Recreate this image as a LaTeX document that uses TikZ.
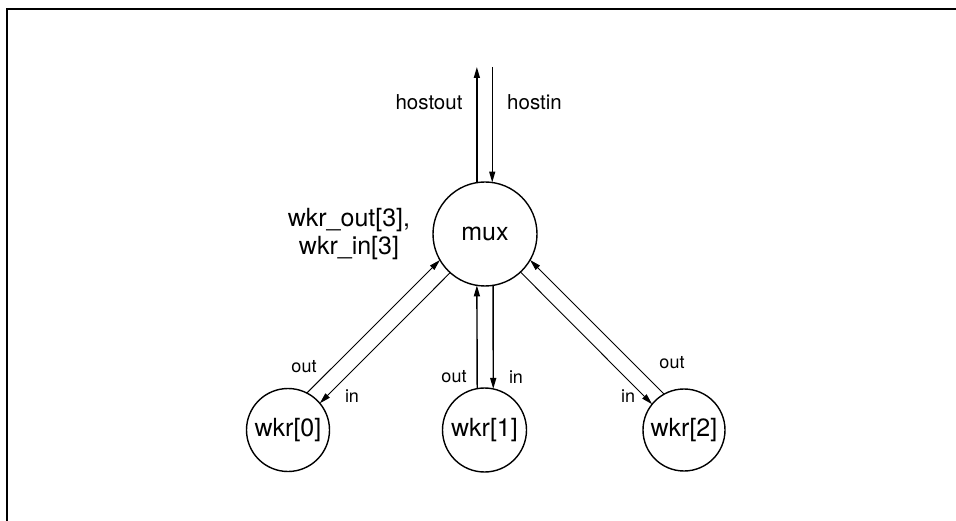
\documentclass[tikz,border=0pt]{standalone}
\usepackage{fontspec}
\setmainfont{TeX Gyre Heros}
\usetikzlibrary{arrows.meta}
\begin{document}
\begin{tikzpicture}[x=1pt,y=-1pt,
  bignode/.style={circle,draw,line width=1.4pt,inner sep=0pt,outer sep=0pt,font=\fontsize{25}{28}\selectfont},
  conn/.style={line width=0.9pt,-{Triangle[length=11pt,width=6pt]}},
  vconn/.style={line width=1.4pt,-{Triangle[length=11pt,width=6pt]}},
  lbl/.style={font=\fontsize{18}{20}\selectfont,inner sep=0pt},
  hlbl/.style={font=\fontsize{20.5}{23}\selectfont,inner sep=0pt}]
\useasboundingbox (0,0) rectangle (956,521);
\draw[line width=1.5pt] (7,521) -- (7,9) -- (956,9);
\node[bignode,minimum size=104pt] (mux) at (485,234) {mux};
\node[bignode,minimum size=83pt] (w0) at (288,430) {wkr[0]};
\node[bignode,minimum size=84pt] (w1) at (484.5,430) {wkr[1]};
\node[bignode,minimum size=82pt] (w2) at (684,430) {wkr[2]};
\coordinate (top) at (485,67);
\draw[vconn] (mux.99) -- (mux.99 |- top);
\draw[vconn] (mux.82 |- top) -- (mux.82);
\draw[vconn] (w1.100) -- (mux.261);
\draw[vconn] (mux.279) -- (w1.78);
\draw[conn] (w0.63) -- (mux.210);
\draw[conn] (mux.228) -- (w0.40);
\draw[conn] (w2.119) -- (mux.330);
\draw[conn] (mux.313) -- (w2.141);
\node[hlbl] (lho) at (429,102) {hostout};
\node[hlbl] (lhi) at (534.5,102) {hostin};
\node[font=\fontsize{25}{28}\selectfont,align=center,inner sep=0pt] (lw) at (349,234) {wkr\_out[3],\\wkr\_in[3]};
\node[lbl] (o0) at (304,367) {out};
\node[lbl] (i0) at (352,396) {in};
\node[lbl] (o1) at (454,377) {out};
\node[lbl] (i1) at (516,377) {in};
\node[lbl] (o2) at (672,363) {out};
\node[lbl] (i2) at (628,396) {in};
\end{tikzpicture}
\end{document}
